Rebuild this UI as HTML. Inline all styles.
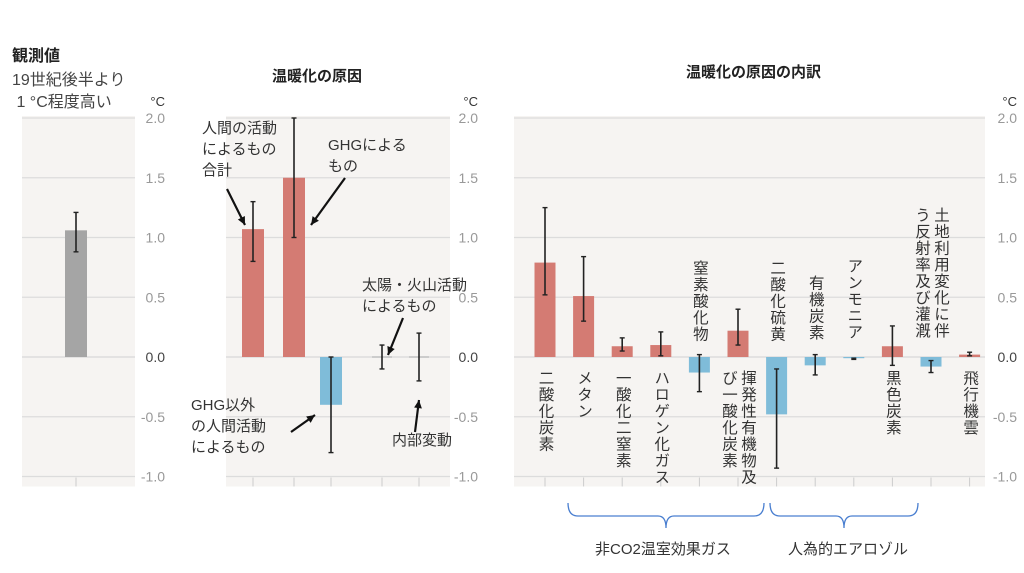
<!DOCTYPE html>
<html><head><meta charset="utf-8">
<style>
body{margin:0;background:#fff;width:1024px;height:573px;overflow:hidden;position:relative;font-family:"Liberation Sans","Noto Sans CJK JP",sans-serif;}
.t{position:absolute;color:#333;font-size:15px;line-height:18px;white-space:nowrap;}
.v{position:absolute;writing-mode:vertical-rl;font-size:15.5px;line-height:19px;color:#333;letter-spacing:1px;white-space:nowrap;}
svg{position:absolute;left:0;top:0;}
</style></head><body>
<svg id="c" width="1024" height="573"></svg>
<div class="t" style="left:12px;top:48px;font-weight:bold;font-size:16px;color:#222">観測値</div>
<div class="t" style="left:12px;top:70px;font-size:16px;line-height:22px;color:#444">19世紀後半より<br>&nbsp;1 °C程度高い</div>
<div class="t" style="left:272px;top:68px;font-weight:bold;font-size:15px;color:#222">温暖化の原因</div>
<div class="t" style="left:686px;top:64px;font-weight:bold;font-size:15px;color:#222">温暖化の原因の内訳</div>
<div class="t" style="left:202px;top:118px;line-height:21px">人間の活動<br>によるもの<br>合計</div>
<div class="t" style="left:328px;top:135px;line-height:21px">GHGによる<br>もの</div>
<div class="t" style="left:362px;top:275px;line-height:21px">太陽・火山活動<br>によるもの</div>
<div class="t" style="left:191px;top:395px;line-height:21px">GHG以外<br>の人間活動<br>によるもの</div>
<div class="t" style="left:392px;top:432px">内部変動</div>
<div class="t" style="left:595px;top:541px;font-size:15px">非CO2温室効果ガス</div>
<div class="t" style="left:788px;top:541px;font-size:15px">人為的エアロゾル</div>
<script>
// Panel data
const obsCats=["観測値"];
const obsVals=[1.06]; const obsLo=[0.88]; const obsHi=[1.21];
const causeCats=["人間の活動合計","GHG","GHG以外の人間活動","太陽・火山","内部変動"];
const causeVals=[1.07,1.5,-0.4,0,0];
const causeLo=[0.8,1.0,-0.8,-0.1,-0.2];
const causeHi=[1.3,2.0,0.0,0.1,0.2];
const detCats=["二酸化炭素","メタン","一酸化二窒素","ハロゲン化ガス","窒素酸化物","揮発性有機物及び一酸化炭素","二酸化硫黄","有機炭素","アンモニア","黒色炭素","土地利用変化に伴う反射率及び灌漑","飛行機雲"];
const detVals=[0.79,0.51,0.09,0.10,-0.13,0.22,-0.48,-0.07,-0.01,0.09,-0.08,0.02];
const detLo=[0.52,0.30,0.05,0.01,-0.29,0.10,-0.93,-0.15,-0.02,-0.07,-0.13,0.01];
const detHi=[1.25,0.84,0.16,0.21,0.02,0.40,-0.10,0.02,-0.01,0.26,-0.03,0.04];
const ticks=[2.0,1.5,1.0,0.5,0.0,-0.5,-1.0];
const tickLabels=["2.0","1.5","1.0","0.5","0.0","-0.5","-1.0"];

const svg=document.getElementById('c');const NS="http://www.w3.org/2000/svg";
function el(t,a,p){const e=document.createElementNS(NS,t);for(const k in a)e.setAttribute(k,a[k]);(p||svg).appendChild(e);return e;}
const y=v=>357-v*119.5;
const RED="#d47b73",BLUE="#7fbcd9",GRAY="#a5a5a5";
function panel(name,x0,x1,labX,xs,vals,lo,hi,colorFn,bw){
  const bg=el('rect',{x:x0,y:y(2)-2,width:x1-x0,height:y(-1)-y(2)+12,fill:"#f6f4f2"});
  
  
  ticks.forEach((t,i)=>{
    const g=el('line',{x1:x0,x2:x1,y1:y(t),y2:y(t),stroke:t===0?"#d8d8d8":"#dcdcdc","stroke-width":1.2});
    
    
    const tx=el('text',{x:labX,y:y(t)+5,"text-anchor":"end","font-size":14,fill:t===0?"#444":"#999","font-family":"Liberation Sans, sans-serif"});
    tx.textContent=tickLabels[i];
    
    
  });
  const u=el('text',{x:labX,y:y(2)-12,"text-anchor":"end","font-size":13,fill:"#333","font-family":"Liberation Sans, sans-serif"});
  u.textContent="°C";
  
  
  xs.forEach((cx,i)=>{
    const tk=el('line',{x1:cx,x2:cx,y1:y(-1)+1,y2:y(-1)+10,stroke:"#ccc"});
    
    
    const v=vals[i];
    if(v!==0){
      const b=el('rect',{x:cx-bw/2,y:Math.min(y(v),y(0)),width:bw,height:Math.abs(y(v)-y(0)),fill:colorFn(v)});
      
      
    } else {
      const b=el('line',{x1:cx-10,x2:cx+10,y1:y(0),y2:y(0),stroke:"#ccc","stroke-width":2});
      
      
    }
    const e=el('line',{x1:cx,x2:cx,y1:y(hi[i]),y2:y(lo[i]),stroke:"#222","stroke-width":1.6});
    
    
    [hi[i],lo[i]].forEach(q=>{
      const c=el('line',{x1:cx-2.5,x2:cx+2.5,y1:y(q),y2:y(q),stroke:"#222","stroke-width":1.4});
      
      
    });
  });
}
panel('observed',22,135,165,[76],obsVals,obsLo,obsHi,()=>GRAY,22);
panel('causes',226,450,478,[253,294,331,382,419],causeVals,causeLo,causeHi,v=>v>0?RED:BLUE,22);
const detX=detCats.map((c,i)=>545+i*38.6);
panel('breakdown',514,985,1017,detX,detVals,detLo,detHi,v=>v>0?RED:BLUE,21);

// vertical category labels
const labelTop=[370,370,370,370,260,370,260,275,258,370,207,370];
const labelText=["二酸化炭素","メタン","一酸化二窒素","ハロゲン化ガス","窒素酸化物","揮発性有機物及\nび一酸化炭素","二酸化硫黄","有機炭素","アンモニア","黒色炭素","土地利用変化に伴\nう反射率及び灌漑","飛行機雲"];
detCats.forEach((c,i)=>{
  const d=document.createElement('div');
  d.className='v';
  
  
  const two=labelText[i].includes("\n");
  d.innerHTML=labelText[i].replace("\n","<br>");
  d.style.left=(detX[i]-(two?19:9.5))+'px';
  d.style.top=labelTop[i]+'px';
  document.body.appendChild(d);
});

// arrows
function arrow(x1,y1,x2,y2){
  const l=el('line',{x1,y1,x2,y2,stroke:"#111","stroke-width":2.2});
  
  
  const a=Math.atan2(y2-y1,x2-x1),s=9;
  const p=el('polygon',{points:`${x2},${y2} ${x2-s*Math.cos(a-0.45)},${y2-s*Math.sin(a-0.45)} ${x2-s*Math.cos(a+0.45)},${y2-s*Math.sin(a+0.45)}`,fill:"#111"});
  
  
}
arrow(227,189,245,225);
arrow(345,178,311,225);
arrow(403,318,388,355);
arrow(291,432,315,415);
arrow(415,432,419,400);

// group brackets
function bracket(x1,x2,name){
  const m=(x1+x2)/2;
  const p=el('path',{d:`M${x1},503 Q${x1},516 ${x1+10},516 L${m-8},516 Q${m},516 ${m},528 Q${m},516 ${m+8},516 L${x2-10},516 Q${x2},516 ${x2},503`,fill:"none",stroke:"#4a7fd0","stroke-width":1.3});
  
  
}
bracket(568,764,'bracket-non-co2');
bracket(770,918,'bracket-aerosol');
</script>
</body></html>
